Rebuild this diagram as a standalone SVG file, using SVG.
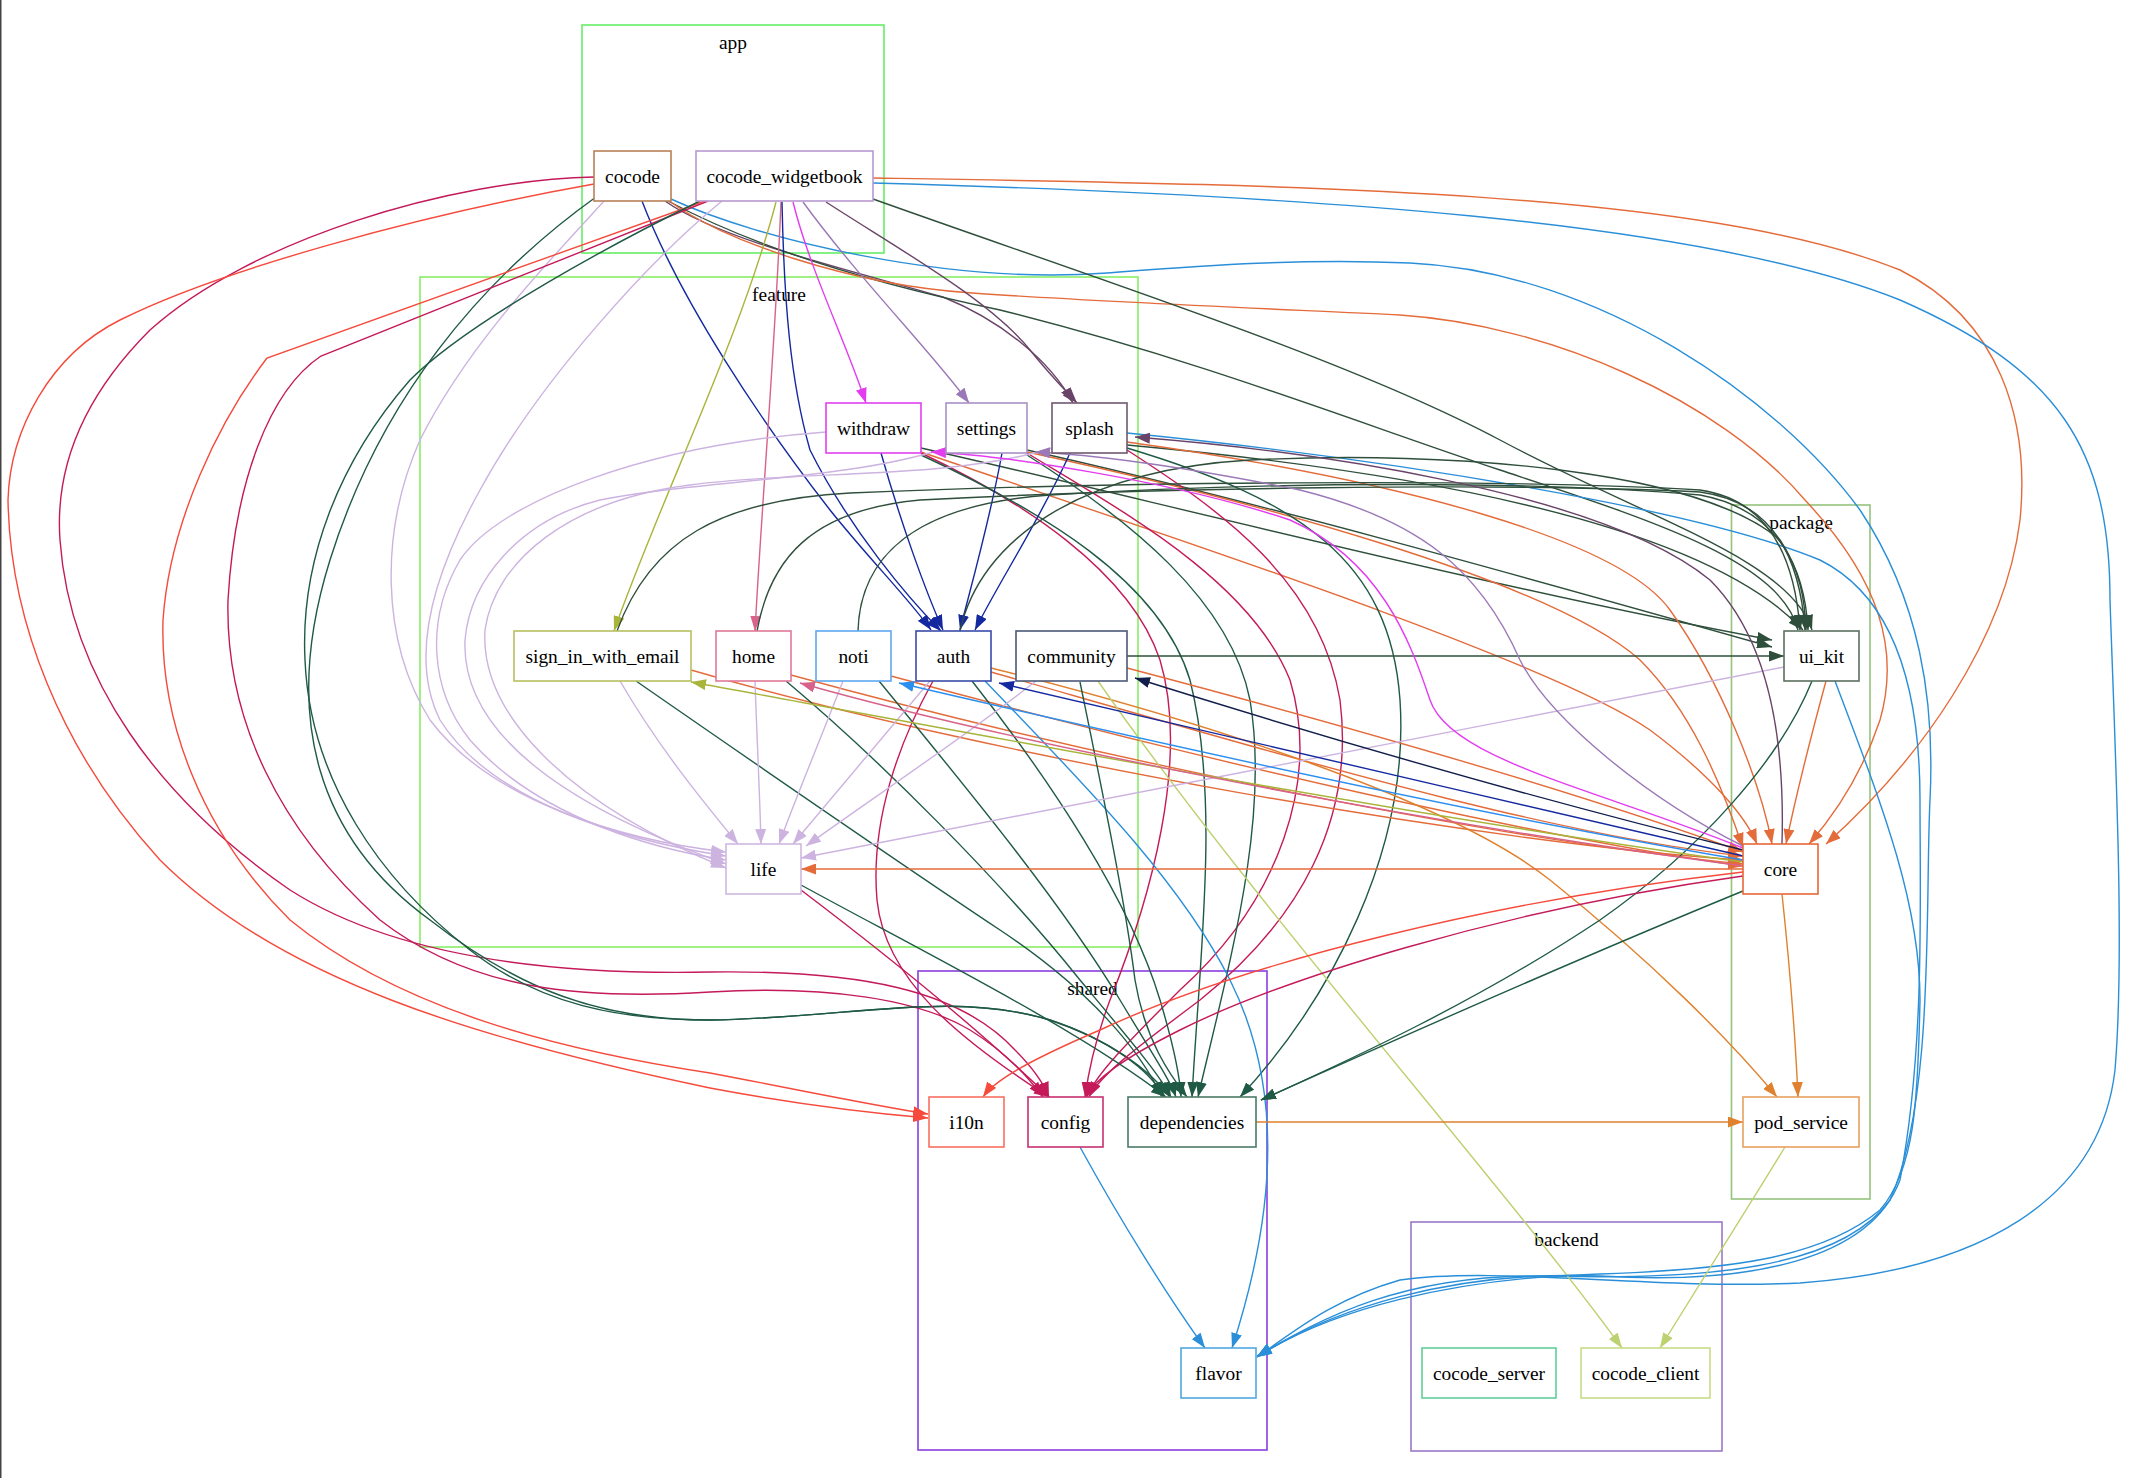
<svg xmlns="http://www.w3.org/2000/svg" width="2130" height="1478" viewBox="0 0 2130 1478">
<style>
text{font-family:"Liberation Serif","Times New Roman",serif;font-size:19.4px;fill:#000;text-anchor:middle}
.n rect{fill:#fff;stroke-width:1.6}
.cl{fill:none;stroke-width:1.6}
.e path{fill:none;stroke-width:1.4}
.ui{stroke:#2f4f3c;marker-end:url(#m-ui)}
.dep{stroke:#1f5a45;marker-end:url(#m-dep)}
.core{stroke:#e46b3a;marker-end:url(#m-core)}
.pod{stroke:#e0812e;marker-end:url(#m-pod)}
.life{stroke:#cdb3e0;marker-end:url(#m-life)}
.cfg{stroke:#c41a5a;marker-end:url(#m-cfg)}
.i10n{stroke:#f54a3c;marker-end:url(#m-i10n)}
.auth{stroke:#1428a0;marker-end:url(#m-auth)}
.flav{stroke:#2a8fd8;marker-end:url(#m-flav)}
.cli{stroke:#bcd170;marker-end:url(#m-cli)}
.spl{stroke:#6a4468;marker-end:url(#m-spl)}
.set{stroke:#9b78b8;marker-end:url(#m-set)}
.wd{stroke:#e43cf0;marker-end:url(#m-wd)}
.home{stroke:#d8628a;marker-end:url(#m-home)}
.sign{stroke:#a9b43a;marker-end:url(#m-sign)}
.noti{stroke:#2b8ff0;marker-end:url(#m-noti)}
.comm{stroke:#111d4a;marker-end:url(#m-comm)}
</style>
<defs>
<marker id="m-ui" viewBox="0 0 15 11" refX="15" refY="5.5" markerWidth="15" markerHeight="11" markerUnits="userSpaceOnUse" orient="auto"><path d="M0,0L15,5.5L0,11z" fill="#2f4f3c"/></marker>
<marker id="m-dep" viewBox="0 0 15 11" refX="15" refY="5.5" markerWidth="15" markerHeight="11" markerUnits="userSpaceOnUse" orient="auto"><path d="M0,0L15,5.5L0,11z" fill="#1f5a45"/></marker>
<marker id="m-core" viewBox="0 0 15 11" refX="15" refY="5.5" markerWidth="15" markerHeight="11" markerUnits="userSpaceOnUse" orient="auto"><path d="M0,0L15,5.5L0,11z" fill="#e46b3a"/></marker>
<marker id="m-pod" viewBox="0 0 15 11" refX="15" refY="5.5" markerWidth="15" markerHeight="11" markerUnits="userSpaceOnUse" orient="auto"><path d="M0,0L15,5.5L0,11z" fill="#e0812e"/></marker>
<marker id="m-life" viewBox="0 0 15 11" refX="15" refY="5.5" markerWidth="15" markerHeight="11" markerUnits="userSpaceOnUse" orient="auto"><path d="M0,0L15,5.5L0,11z" fill="#cdb3e0"/></marker>
<marker id="m-cfg" viewBox="0 0 15 11" refX="15" refY="5.5" markerWidth="15" markerHeight="11" markerUnits="userSpaceOnUse" orient="auto"><path d="M0,0L15,5.5L0,11z" fill="#c41a5a"/></marker>
<marker id="m-i10n" viewBox="0 0 15 11" refX="15" refY="5.5" markerWidth="15" markerHeight="11" markerUnits="userSpaceOnUse" orient="auto"><path d="M0,0L15,5.5L0,11z" fill="#f54a3c"/></marker>
<marker id="m-auth" viewBox="0 0 15 11" refX="15" refY="5.5" markerWidth="15" markerHeight="11" markerUnits="userSpaceOnUse" orient="auto"><path d="M0,0L15,5.5L0,11z" fill="#1428a0"/></marker>
<marker id="m-flav" viewBox="0 0 15 11" refX="15" refY="5.5" markerWidth="15" markerHeight="11" markerUnits="userSpaceOnUse" orient="auto"><path d="M0,0L15,5.5L0,11z" fill="#2a8fd8"/></marker>
<marker id="m-cli" viewBox="0 0 15 11" refX="15" refY="5.5" markerWidth="15" markerHeight="11" markerUnits="userSpaceOnUse" orient="auto"><path d="M0,0L15,5.5L0,11z" fill="#bcd170"/></marker>
<marker id="m-spl" viewBox="0 0 15 11" refX="15" refY="5.5" markerWidth="15" markerHeight="11" markerUnits="userSpaceOnUse" orient="auto"><path d="M0,0L15,5.5L0,11z" fill="#6a4468"/></marker>
<marker id="m-set" viewBox="0 0 15 11" refX="15" refY="5.5" markerWidth="15" markerHeight="11" markerUnits="userSpaceOnUse" orient="auto"><path d="M0,0L15,5.5L0,11z" fill="#9b78b8"/></marker>
<marker id="m-wd" viewBox="0 0 15 11" refX="15" refY="5.5" markerWidth="15" markerHeight="11" markerUnits="userSpaceOnUse" orient="auto"><path d="M0,0L15,5.5L0,11z" fill="#e43cf0"/></marker>
<marker id="m-home" viewBox="0 0 15 11" refX="15" refY="5.5" markerWidth="15" markerHeight="11" markerUnits="userSpaceOnUse" orient="auto"><path d="M0,0L15,5.5L0,11z" fill="#d8628a"/></marker>
<marker id="m-sign" viewBox="0 0 15 11" refX="15" refY="5.5" markerWidth="15" markerHeight="11" markerUnits="userSpaceOnUse" orient="auto"><path d="M0,0L15,5.5L0,11z" fill="#a9b43a"/></marker>
<marker id="m-noti" viewBox="0 0 15 11" refX="15" refY="5.5" markerWidth="15" markerHeight="11" markerUnits="userSpaceOnUse" orient="auto"><path d="M0,0L15,5.5L0,11z" fill="#2b8ff0"/></marker>
<marker id="m-comm" viewBox="0 0 15 11" refX="15" refY="5.5" markerWidth="15" markerHeight="11" markerUnits="userSpaceOnUse" orient="auto"><path d="M0,0L15,5.5L0,11z" fill="#111d4a"/></marker>
</defs>
<rect x="0" y="0" width="2130" height="1478" fill="#fff"/>
<line x1="0.75" y1="0" x2="0.75" y2="1478" stroke="#444" stroke-width="1.5"/>
<g id="clusters">
<g id="cluster-app"><rect class="cl" x="582" y="25" width="302" height="228" stroke="#66ee66"/><text x="733" y="49">app</text></g>
<g id="cluster-feature"><rect class="cl" x="420" y="277" width="718" height="670" stroke="#88ee66"/><text x="779" y="301">feature</text></g>
<g id="cluster-package"><rect class="cl" x="1731.5" y="505" width="138.5" height="694" stroke="#94c47c"/><text x="1801" y="529">package</text></g>
<g id="cluster-shared"><rect class="cl" x="918" y="971" width="349" height="479" stroke="#8a3ee0"/><text x="1092.5" y="995">shared</text></g>
<g id="cluster-backend"><rect class="cl" x="1411" y="1222" width="311" height="229" stroke="#9a78c8"/><text x="1566.5" y="1246">backend</text></g>
</g>
<g id="edges" class="e">
<!-- cocode -->
<path class="cfg" d="M594,177 C450,180 250,240 150,330 C80,400 55,470 60,540 C70,680 160,800 290,890 C400,960 560,975 710,972 C860,970 960,990 1015,1050 C1030,1065 1043,1082 1049,1097"/>
<path class="i10n" d="M594,184 C420,215 220,270 120,320 C50,355 10,430 8,500 C10,620 60,750 160,860 C280,980 480,1040 710,1088 C800,1105 870,1113 928,1118"/>
<path class="dep" d="M596,197 C480,280 380,400 330,560 C280,720 320,840 430,920 C520,990 600,1020 710,1020 C850,1018 950,990 1050,1020 C1110,1040 1150,1070 1164,1097"/>
<path class="life" d="M604,201 C560,250 470,340 420,440 C380,530 380,640 430,720 C490,800 620,840 726,852"/>
<path class="auth" d="M642,201 C680,300 760,420 830,510 C870,560 910,600 931,630"/>
<path class="spl" d="M665,201 C720,240 850,270 943,297 C1000,320 1050,360 1073,403"/>
<path class="ui" d="M668,201 C760,250 880,285 1000,310 C1200,360 1350,420 1500,470 C1650,520 1780,560 1798,630"/>
<path class="core" d="M668,200 C720,240 850,285 972,293 C1100,302 1300,310 1400,315 C1550,325 1720,400 1805,500 C1880,580 1900,650 1880,720 C1860,780 1830,820 1809,844"/>
<path class="flav" d="M671,199 C760,240 950,285 1107,273 C1200,266 1300,258 1410,263 C1600,272 1780,400 1860,510 C1920,600 1935,700 1930,800 C1925,900 1935,1100 1890,1200 C1840,1270 1700,1280 1550,1276 C1400,1273 1320,1320 1257,1356"/>
<!-- cocode_widgetbook -->
<path class="cfg" d="M708,201 L321,356 C270,390 235,480 228,600 C225,720 280,830 380,920 C470,990 580,1000 710,992 C830,985 920,1000 970,1030 C1010,1055 1030,1080 1043,1097"/>
<path class="i10n" d="M705,201 L267,358 C220,420 170,520 163,620 C160,720 200,830 290,920 C400,1010 560,1050 710,1073 C800,1090 870,1105 928,1114"/>
<path class="dep" d="M700,201 C620,240 470,320 410,380 C340,460 300,560 305,660 C310,780 380,880 470,950 C540,1005 620,1020 710,1020 C850,1018 950,990 1050,1020 C1110,1040 1150,1070 1170,1097"/>
<path class="life" d="M722,201 C650,260 540,380 480,490 C430,580 410,660 440,720 C490,800 620,840 726,856"/>
<path class="sign" d="M776,202 C740,340 660,500 614,631"/>
<path class="home" d="M781,202 C775,350 762,500 755,631"/>
<path class="auth" d="M782,202 C784,300 790,380 810,450 C850,530 910,600 941,631"/>
<path class="wd" d="M793,202 C810,270 845,340 866,403"/>
<path class="set" d="M803,202 C860,280 930,350 969,403"/>
<path class="spl" d="M826,202 C900,250 990,300 1030,350 C1050,375 1065,390 1077,403"/>
<path class="ui" d="M873,199 C1100,280 1350,360 1500,440 C1650,520 1790,560 1812,630"/>
<path class="core" d="M873,178 C1300,185 1700,190 1900,270 C2000,320 2030,420 2020,520 C2005,640 1920,760 1826,844"/>
<path class="flav" d="M873,183 C1300,195 1700,220 1900,300 C2060,370 2110,450 2110,600 C2115,750 2125,950 2115,1070 C2100,1200 1980,1270 1800,1283 C1650,1290 1500,1266 1400,1280 C1330,1300 1290,1335 1257,1357"/>
<!-- withdraw -->
<path class="auth" d="M881,453 C900,520 925,590 943,630"/>
<path class="life" d="M826,432 C650,445 500,500 460,560 C425,620 430,690 470,740 C540,820 660,850 726,860"/>
<path class="ui" d="M921,448 C1150,500 1500,590 1772,640"/>
<path class="core" d="M921,452 C1150,530 1550,660 1650,730 C1710,775 1745,815 1757,844"/>
<path class="cfg" d="M921,453 C1020,500 1130,570 1160,660 C1190,760 1150,900 1110,1000 C1095,1040 1088,1075 1085,1097"/>
<path class="dep" d="M921,455 C1040,510 1160,580 1190,680 C1220,800 1200,950 1192,1097"/>
<!-- settings -->
<path class="auth" d="M1002,453 C990,520 970,590 960,630"/>
<path class="life" d="M946,448 C850,480 700,480 600,500 C520,520 470,580 465,640 C462,710 520,790 726,864"/>
<path class="ui" d="M1027,450 C1250,500 1500,570 1772,647"/>
<path class="core" d="M1027,452 C1250,500 1550,580 1640,660 C1690,710 1720,780 1743,848"/>
<path class="cfg" d="M1027,453 C1120,510 1250,580 1290,680 C1320,780 1280,900 1180,990 C1130,1040 1095,1075 1087,1097"/>
<path class="dep" d="M1027,455 C1130,520 1230,600 1250,700 C1270,820 1230,960 1198,1097"/>
<!-- splash -->
<path class="auth" d="M1070,453 C1040,520 1000,580 975,630"/>
<path class="life" d="M1052,448 C950,480 800,470 690,485 C570,500 495,560 485,630 C480,710 560,800 726,868"/>
<path class="ui" d="M1127,445 C1400,470 1700,520 1803,630"/>
<path class="core" d="M1127,442 C1400,480 1620,540 1670,610 C1720,680 1760,780 1772,844"/>
<path class="cfg" d="M1127,450 C1220,510 1320,580 1340,700 C1355,820 1300,920 1200,1000 C1140,1045 1100,1075 1089,1097"/>
<path class="dep" d="M1127,448 C1300,500 1390,560 1400,700 C1410,850 1330,1000 1240,1097"/>
<path class="flav" d="M1127,433 C1400,460 1700,510 1820,560 C1900,600 1920,700 1920,800 C1920,900 1925,1050 1900,1180 C1870,1260 1750,1285 1600,1276 C1450,1270 1330,1310 1257,1357"/>
<!-- sign_in_with_email -->
<path class="ui" d="M617,631 C650,540 720,500 850,493 C1100,482 1500,478 1700,490 C1770,500 1795,560 1800,630"/>
<path class="life" d="M620,681 C660,750 710,810 738,844"/>
<path class="core" d="M691,670 C1000,760 1500,845 1743,860"/>
<path class="dep" d="M636,681 C750,760 880,850 1000,930 C1090,990 1140,1050 1162,1097"/>
<!-- home -->
<path class="ui" d="M757,631 C770,560 810,510 920,500 C1150,488 1500,482 1700,492 C1775,502 1800,560 1805,630"/>
<path class="life" d="M755,681 C757,740 760,800 761,844"/>
<path class="core" d="M791,675 C1100,760 1500,840 1743,864"/>
<path class="dep" d="M786,681 C880,760 1000,880 1080,980 C1130,1040 1160,1075 1171,1097"/>
<!-- noti -->
<path class="ui" d="M858,631 C860,560 910,505 1050,495 C1300,480 1550,482 1700,495 C1780,510 1805,570 1808,630"/>
<path class="life" d="M843,681 C820,740 795,800 779,844"/>
<path class="core" d="M891,676 C1200,760 1550,840 1743,866"/>
<path class="dep" d="M879,681 C960,780 1060,900 1120,1000 C1150,1050 1170,1080 1176,1097"/>
<!-- auth -->
<path class="ui" d="M960,631 C980,540 1080,470 1250,460 C1450,450 1700,470 1780,540 C1800,570 1805,600 1806,630"/>
<path class="life" d="M930,681 C880,740 830,800 793,844"/>
<path class="core" d="M991,672 C1300,760 1550,835 1743,856"/>
<path class="dep" d="M972,681 C1050,780 1130,900 1160,1000 C1175,1050 1180,1080 1181,1097"/>
<path class="cfg" d="M933,681 C900,740 870,820 877,900 C885,980 960,1040 1049,1097"/>
<path class="flav" d="M985,681 C1080,780 1180,880 1230,980 C1280,1080 1280,1200 1232,1348"/>
<path class="pod" d="M991,668 C1200,720 1450,800 1550,880 C1650,960 1730,1040 1777,1097"/>
<!-- community -->
<path class="ui" d="M1127,656 L1784,656"/>
<path class="life" d="M1036,681 C960,740 870,800 806,846"/>
<path class="core" d="M1127,668 C1400,740 1600,800 1743,852"/>
<path class="dep" d="M1080,682 C1100,780 1125,900 1135,980 C1145,1040 1170,1075 1187,1097"/>
<path class="cli" d="M1098,681 C1250,900 1500,1180 1622,1348"/>
<!-- ui_kit -->
<path class="life" d="M1784,667 L801,858"/>
<path class="core" d="M1826,681 C1810,740 1795,800 1786,844"/>
<path class="dep" d="M1812,681 C1780,760 1700,850 1600,920 C1480,1000 1350,1060 1261,1100"/>
<path class="flav" d="M1835,681 C1880,800 1920,900 1920,1000 C1918,1100 1915,1170 1880,1210 C1820,1260 1720,1270 1600,1274 C1450,1278 1330,1310 1257,1357"/>
<!-- core -->
<path class="core" d="M1743,869 L801,869"/>
<path class="i10n" d="M1743,872 C1500,900 1250,960 1100,1030 C1030,1060 995,1080 983,1097"/>
<path class="cfg" d="M1743,876 C1500,910 1280,980 1180,1030 C1120,1060 1095,1080 1085,1097"/>
<path class="dep" d="M1743,891 C1550,970 1350,1060 1261,1100"/>
<path class="pod" d="M1782,894 C1788,950 1795,1030 1798,1097"/>
<path class="sign" d="M1743,862 C1400,815 900,720 691,682"/>
<path class="home" d="M1743,866 C1400,820 1000,740 800,683"/>
<path class="noti" d="M1743,860 C1450,810 1100,730 899,683"/>
<path class="auth" d="M1743,856 C1500,800 1200,730 999,683"/>
<path class="comm" d="M1743,850 C1500,790 1300,730 1135,678"/>
<path class="wd" d="M1743,848 C1600,790 1450,760 1430,700 C1410,640 1380,560 1290,520 C1170,480 1000,455 931,452"/>
<path class="set" d="M1743,846 C1650,800 1550,720 1520,660 C1480,570 1420,520 1300,490 C1200,470 1100,455 1035,452"/>
<path class="spl" d="M1782,844 C1785,740 1770,640 1710,580 C1600,490 1300,450 1135,437"/>
<!-- life -->
<path class="cfg" d="M801,890 C880,950 980,1030 1049,1097"/>
<path class="dep" d="M801,885 C920,950 1080,1030 1166,1097"/>
<!-- shared/package -->
<path class="flav" d="M1080,1147 C1120,1220 1170,1300 1205,1348"/>
<path class="pod" d="M1256,1122 L1743,1122"/>
<path class="cli" d="M1785,1147 C1740,1220 1690,1300 1660,1348"/>
</g>
<g id="nodes">
<g id="cocode" class="n"><rect x="594" y="151" width="77" height="50" stroke="#b88058"/><text x="632.5" y="182.5">cocode</text></g>
<g id="cocode_widgetbook" class="n"><rect x="696" y="151" width="177" height="50" stroke="#b898d0"/><text x="784.5" y="182.5">cocode_widgetbook</text></g>
<g id="withdraw" class="n"><rect x="826" y="403" width="95" height="50" stroke="#e040f0"/><text x="873.5" y="434.5">withdraw</text></g>
<g id="settings" class="n"><rect x="946" y="403" width="81" height="50" stroke="#a890c8"/><text x="986.5" y="434.5">settings</text></g>
<g id="splash" class="n"><rect x="1052" y="403" width="75" height="50" stroke="#705870"/><text x="1089.5" y="434.5">splash</text></g>
<g id="sign_in_with_email" class="n"><rect x="514" y="631" width="177" height="50" stroke="#b8c060"/><text x="602.5" y="662.5">sign_in_with_email</text></g>
<g id="home" class="n"><rect x="716" y="631" width="75" height="50" stroke="#e07898"/><text x="753.5" y="662.5">home</text></g>
<g id="noti" class="n"><rect x="816" y="631" width="75" height="50" stroke="#60a8f0"/><text x="853.5" y="662.5">noti</text></g>
<g id="auth" class="n"><rect x="916" y="631" width="75" height="50" stroke="#3a4aa8"/><text x="953.5" y="662.5">auth</text></g>
<g id="community" class="n"><rect x="1016" y="631" width="111" height="50" stroke="#4a5878"/><text x="1071.5" y="662.5">community</text></g>
<g id="ui_kit" class="n"><rect x="1784" y="631" width="75" height="50" stroke="#5a7060"/><text x="1821.5" y="662.5">ui_kit</text></g>
<g id="life" class="n"><rect x="726" y="844" width="75" height="50" stroke="#d0b8e0"/><text x="763.5" y="875.5">life</text></g>
<g id="core" class="n"><rect x="1743" y="844" width="75" height="50" stroke="#e86838"/><text x="1780.5" y="875.5">core</text></g>
<g id="i10n" class="n"><rect x="929" y="1097" width="75" height="50" stroke="#f87060"/><text x="966.5" y="1128.5">i10n</text></g>
<g id="config" class="n"><rect x="1028" y="1097" width="75" height="50" stroke="#c83070"/><text x="1065.5" y="1128.5">config</text></g>
<g id="dependencies" class="n"><rect x="1128" y="1097" width="128" height="50" stroke="#4a7a66"/><text x="1192" y="1128.5">dependencies</text></g>
<g id="pod_service" class="n"><rect x="1743" y="1097" width="116" height="50" stroke="#e8a060"/><text x="1801" y="1128.5">pod_service</text></g>
<g id="flavor" class="n"><rect x="1181" y="1348" width="75" height="50" stroke="#50a8e0"/><text x="1218.5" y="1379.5">flavor</text></g>
<g id="cocode_server" class="n"><rect x="1422" y="1348" width="134" height="50" stroke="#60d098"/><text x="1489" y="1379.5">cocode_server</text></g>
<g id="cocode_client" class="n"><rect x="1581" y="1348" width="129" height="50" stroke="#c8dc88"/><text x="1645.5" y="1379.5">cocode_client</text></g>
</g>
</svg>
